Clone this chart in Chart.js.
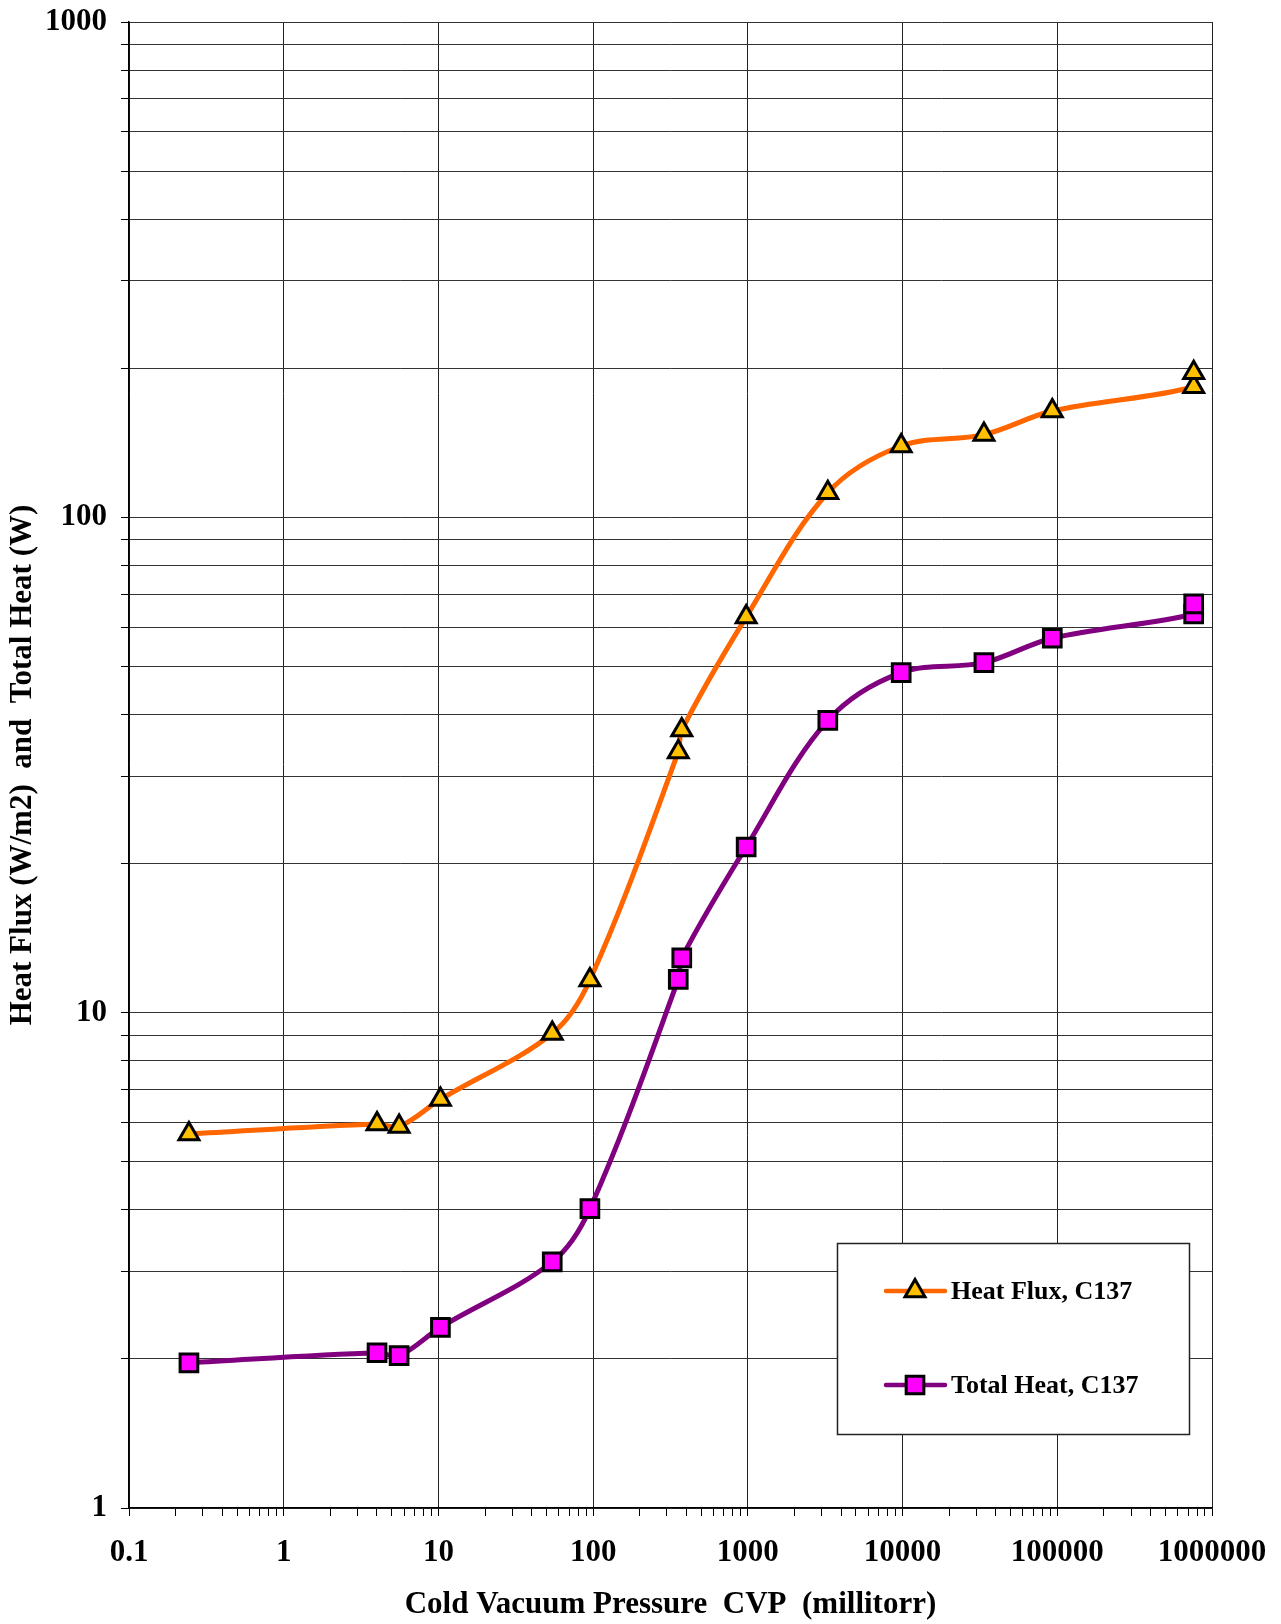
<!DOCTYPE html>
<html>
<head>
<meta charset="utf-8">
<script src="https://cdn.jsdelivr.net/npm/chart.js@4/dist/chart.umd.min.js"></script>
<style>
  html, body { margin: 0; padding: 0; background: #fff; }
  #wrap { width: 1281px; height: 1624px; }
</style>
</head>
<body>
<div id="wrap"><canvas id="c" width="1281" height="1624"></canvas></div>
<script>
// ---- Data ----
const pressure  = [0.244, 4.01, 5.57, 10.3, 54.4, 95.3, 355, 374, 975, 3287, 9795, 33570, 92830, 761500, 761500];
const heatFlux  = [5.69, 5.96, 5.89, 6.68, 9.08, 11.64, 33.6, 37.2, 62.9, 112.1, 139.3, 146.9, 163.9, 183.5, 195.9];
const totalHeat = [1.964, 2.058, 2.03, 2.316, 3.14, 4.02, 11.67, 12.9, 21.6, 38.9, 48.6, 50.9, 57.0, 63.8, 66.9];

const seriesNames = ["Heat Flux, C137", "Total Heat, C137"];

const xTickLabels = ["0.1", "1", "10", "100", "1000", "10000", "100000", "1000000"];
const yTickLabels = ["1", "10", "100", "1000"];

const xTitle = "Cold Vacuum Pressure  CVP  (millitorr)";
const yTitle = "Heat Flux (W/m2)  and  Total Heat (W)";

// ---- helpers ----
function logTicks(labels) {
  const majors = labels.map(Number);
  const vals = [];
  for (let i = 0; i < majors.length; i++) {
    vals.push(majors[i]);
    if (i < majors.length - 1) {
      for (let k = 2; k <= 9; k++) vals.push(+(majors[i] * k).toPrecision(6));
    }
  }
  return vals;
}
const xTickValues = logTicks(xTickLabels);
const yTickValues = logTicks(yTickLabels);
function isMajor(v, labels) { return labels.map(Number).some(m => Math.abs(m - v) / m < 1e-6); }
function labelFor(v, labels) {
  const i = labels.map(Number).findIndex(m => Math.abs(m - v) / m < 1e-6);
  return i >= 0 ? labels[i] : '';
}

const FONT = "'Liberation Serif', 'Times New Roman', serif";
const hfPts = pressure.map((p, i) => ({ x: p, y: heatFlux[i] }));
const thPts = pressure.map((p, i) => ({ x: p, y: totalHeat[i] }));

const legendPlugin = {
  id: 'boxLegend',
  afterDraw(chart) {
    const ctx = chart.ctx;
    const bx = 837, by = 1243, bw = 352, bh = 191;
    ctx.save();
    ctx.fillStyle = '#fff';
    ctx.fillRect(bx, by, bw, bh);
    ctx.strokeStyle = '#222';
    ctx.lineWidth = 1.5;
    ctx.strokeRect(bx + 0.5, by + 0.5, bw, bh);
    const rows = [1291, 1385];
    chart.data.datasets.forEach((ds, i) => {
      const y = rows[i];
      ctx.strokeStyle = ds.borderColor;
      ctx.lineWidth = 4.5;
      ctx.lineCap = 'round';
      ctx.beginPath();
      ctx.moveTo(886, y);
      ctx.lineTo(945, y);
      ctx.stroke();
      ctx.fillStyle = ds.pointBackgroundColor;
      ctx.strokeStyle = ds.pointBorderColor;
      ctx.lineWidth = ds.pointBorderWidth;
      Chart.helpers.drawPoint(ctx, {
        pointStyle: ds.pointStyle,
        radius: ds.pointRadius,
        borderWidth: ds.pointBorderWidth,
        rotation: 0
      }, 915, y);
      ctx.fillStyle = '#000';
      ctx.font = "bold 26px " + FONT;
      ctx.textAlign = 'left';
      ctx.textBaseline = 'middle';
      ctx.fillText(ds.label, 951, y + 1);
    });
    ctx.restore();
  }
};

new Chart(document.getElementById('c'), {
  type: 'scatter',
  data: {
    datasets: [
      {
        label: seriesNames[0],
        data: hfPts,
        showLine: true,
        borderColor: '#FF6600',
        borderWidth: 5,
        tension: 0.35,
        pointStyle: 'triangle',
        pointRadius: 11.5,
        pointHoverRadius: 11.5,
        pointBackgroundColor: '#FFC000',
        pointBorderColor: '#000',
        pointBorderWidth: 3
      },
      {
        label: seriesNames[1],
        data: thPts,
        showLine: true,
        borderColor: '#800080',
        borderWidth: 5,
        tension: 0.35,
        pointStyle: 'rect',
        pointRadius: 12.5,
        pointHoverRadius: 12.5,
        pointBackgroundColor: '#FF00FF',
        pointBorderColor: '#000',
        pointBorderWidth: 3
      }
    ]
  },
  options: {
    responsive: false,
    animation: false,
    devicePixelRatio: 1,
    layout: { padding: { top: 22, right: 69, left: 0, bottom: 0 } },
    plugins: { legend: { display: false }, tooltip: { enabled: false } },
    scales: {
      x: {
        type: 'logarithmic',
        position: 'bottom',
        min: 0.1,
        max: 1000000,
        afterBuildTicks: s => { s.ticks = xTickValues.map(v => ({ value: v })); },
        afterFit: s => { s.height = 116; s.paddingLeft = 0; s.paddingRight = 0; },
        border: { color: '#000', width: 1.5 },
        grid: {
          color: c => (c.tick && isMajor(c.tick.value, xTickLabels)) ? '#222' : 'rgba(0,0,0,0)',
          tickColor: '#000',
          lineWidth: 1,
          tickLength: 8
        },
        ticks: {
          autoSkip: false,
          maxRotation: 0,
          minRotation: 0,
          padding: 18,
          color: '#000',
          font: { family: FONT, size: 31, weight: 'bold' },
          callback: v => labelFor(v, xTickLabels)
        },
        title: {
          display: true,
          text: xTitle,
          color: '#000',
          font: { family: FONT, size: 31, weight: 'bold' },
          padding: { top: 0, bottom: 0 }
        }
      },
      y: {
        type: 'logarithmic',
        min: 1,
        max: 1000,
        afterBuildTicks: s => { s.ticks = yTickValues.map(v => ({ value: v })); },
        afterFit: s => { s.width = 129; s.paddingTop = 0; s.paddingBottom = 0; },
        border: { color: '#000', width: 1.5 },
        grid: {
          color: '#333',
          tickColor: '#000',
          lineWidth: 1,
          tickLength: 8
        },
        ticks: {
          autoSkip: false,
          padding: 14,
          color: '#000',
          font: { family: FONT, size: 31, weight: 'bold' },
          callback: v => labelFor(v, yTickLabels)
        },
        title: {
          display: true,
          text: yTitle,
          color: '#000',
          font: { family: FONT, size: 31, weight: 'bold' },
          padding: { top: 4, bottom: 0 }
        }
      }
    }
  },
  plugins: [legendPlugin]
});
</script>
</body>
</html>
